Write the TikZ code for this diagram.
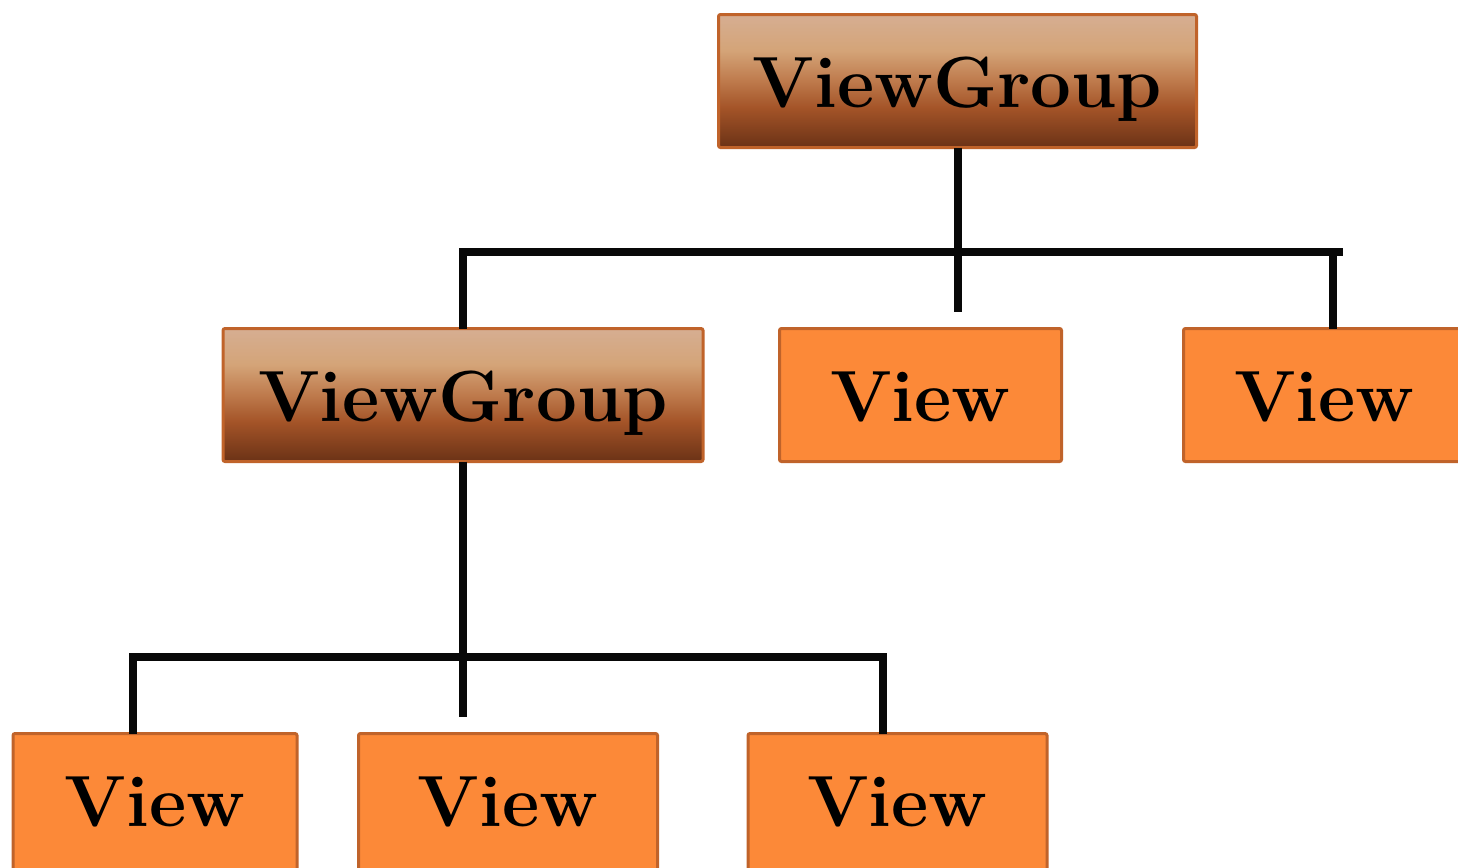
\documentclass[tikz,border=0pt]{standalone}
\usetikzlibrary{calc}
\definecolor{boxborder}{RGB}{192,99,42}
\definecolor{vieworange}{RGB}{252,137,56}
\definecolor{linkblack}{RGB}{8,8,8}
\definecolor{vgtop}{RGB}{214,174,146}
\definecolor{vgtwo}{RGB}{212,164,120}
\definecolor{vgmid}{RGB}{190,122,76}
\definecolor{vgfour}{RGB}{164,84,40}
\definecolor{vgbot}{RGB}{107,50,22}
\pgfdeclareverticalshading{vgshade}{100bp}{color(0bp)=(vgbot); color(25bp)=(vgbot); color(40bp)=(vgfour); color(50bp)=(vgmid); color(61.5bp)=(vgtwo); color(75bp)=(vgtop); color(100bp)=(vgtop)}
\tikzset{
  box/.style={draw=boxborder, line width=1.5pt, rounded corners=1pt, inner sep=0pt, outer sep=0pt,
    text height=46.5pt, text depth=20pt, font=\fontsize{36.25}{40}\selectfont\bfseries},
  groupbox/.style={box, shading=vgshade},
  viewbox/.style={box, fill=vieworange},
  cutbox/.style={viewbox, text depth=26pt},
  link/.style={line width=4pt, draw=linkblack}
}
\begin{document}
\begin{tikzpicture}[x=0.5pt,y=-0.5pt]
\useasboundingbox (0,0) rectangle (1458,868);
\clip (0,0) rectangle (1458,868);
% top
\node[groupbox, minimum width=239pt, anchor=north] (vg0) at (957.5,14.5) {ViewGroup};
% middle row
\node[groupbox, minimum width=240pt, anchor=north] (vg1) at (463,328.5) {ViewGroup};
\node[viewbox, minimum width=141pt, anchor=north] (v1) at (920.5,328.5) {View};
\node[viewbox, minimum width=141pt, anchor=north west] (v2) at (1183.5,328.5) {View};
% bottom row
\node[cutbox, minimum width=142pt, anchor=north] (v3) at (155,733.5) {View};
\node[cutbox, minimum width=149.5pt, anchor=north] (v4) at (508,733.5) {View};
\node[cutbox, minimum width=149.5pt, anchor=north] (v5) at (897.5,733.5) {View};
% connector points
\coordinate (b1L) at (459,252);
\coordinate (b1R) at (1343,252);
\coordinate (t1) at (957.5,312);
\coordinate (r1) at (1333,252);
\coordinate (b2L) at (129,657);
\coordinate (b2R) at (887,657);
\coordinate (t2) at (463,717);
\coordinate (l2) at (133,657);
\coordinate (r2) at (883,657);
% connectors level 1
\draw[link] (vg0.south) -- (t1);
\draw[link] (b1L) -- (b1R);
\draw[link] (vg1.north |- b1L) -- (vg1.north);
\draw[link] (r1) -- (r1 |- v2.north);
% connectors level 2
\draw[link] (vg1.south) -- (t2);
\draw[link] (b2L) -- (b2R);
\draw[link] (l2) -- (l2 |- v3.north);
\draw[link] (r2) -- (r2 |- v5.north);
\end{tikzpicture}
\end{document}
